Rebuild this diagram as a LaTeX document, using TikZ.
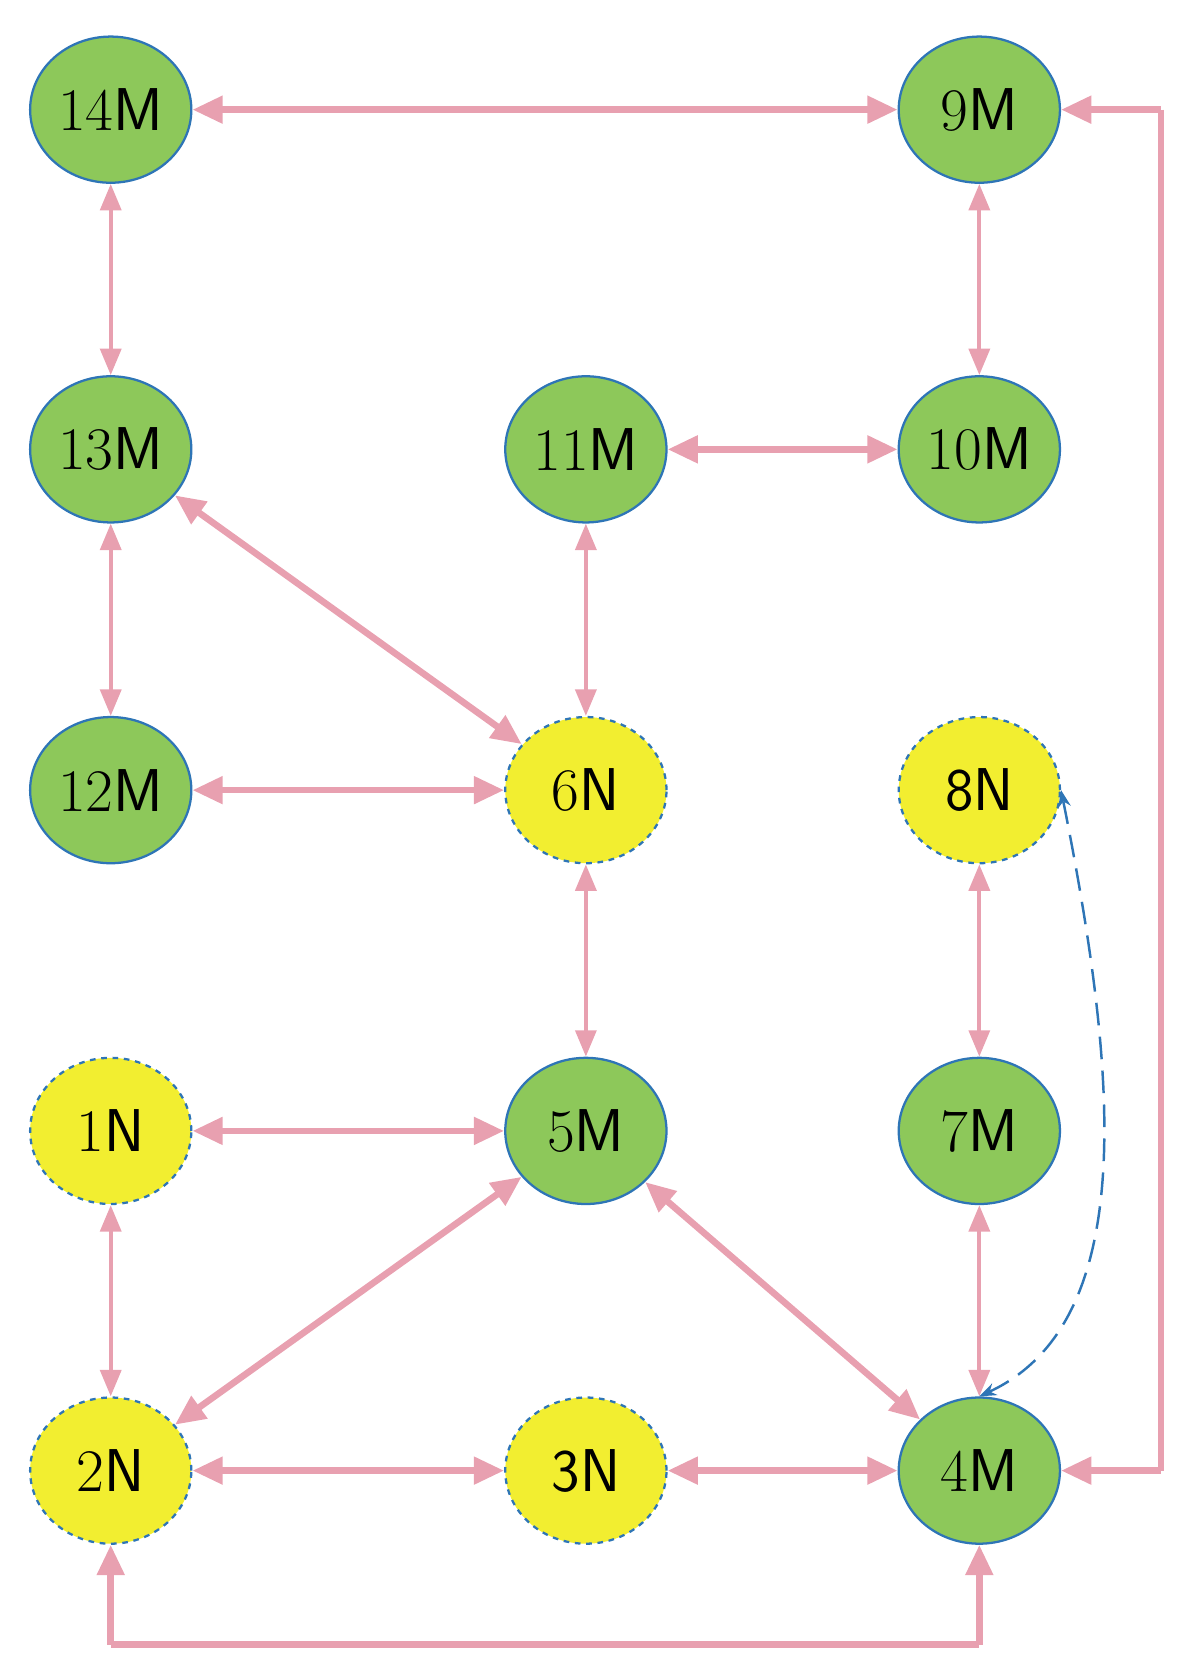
\documentclass[tikz,border=0pt]{standalone}
\usetikzlibrary{shapes.geometric,arrows.meta}
\definecolor{gfill}{HTML}{8DC85A}
\definecolor{bord}{HTML}{2E75B6}
\definecolor{yfill}{HTML}{F2EE30}
\definecolor{pink}{HTML}{E8A0B0}
\begin{document}
\begin{tikzpicture}[x=0.02cm,y=-0.02cm,
 base/.style={ellipse,minimum width=3cm,minimum height=2.72cm,inner sep=0pt,draw=bord,line width=1.2pt,font=\fontsize{32}{36}\selectfont},
 mn/.style={base,fill=gfill},
 nn/.style={base,fill=yfill,dashed},
 thk/.style={draw=pink,line width=3.5pt,{Triangle[length=16pt,width=14pt]}-{Triangle[length=16pt,width=14pt]}},
 thn/.style={draw=pink,line width=2.2pt,{Triangle[length=14pt,width=11pt]}-{Triangle[length=14pt,width=11pt]}},
 one/.style={draw=pink,line width=3.5pt,-{Triangle[length=16pt,width=14pt]}}]
\useasboundingbox (0,0) rectangle (1107,1560);
\node[mn] (n14) at (103,102) {14\textsf{M}};
\node[mn] (n9) at (911,102) {9\textsf{M}};
\node[mn] (n13) at (103,418) {13\textsf{M}};
\node[mn] (n11) at (545,418) {11\textsf{M}};
\node[mn] (n10) at (911,418) {10\textsf{M}};
\node[mn] (n12) at (103,735) {12\textsf{M}};
\node[nn] (n6) at (545,735) {6\textsf{N}};
\node[nn] (n8) at (911,735) {\textsf{8N}};
\node[nn] (n1) at (103,1052) {1\textsf{N}};
\node[mn] (n5) at (545,1052) {5\textsf{M}};
\node[mn] (n7) at (911,1052) {7\textsf{M}};
\node[nn] (n2) at (103,1368) {2\textsf{N}};
\node[nn] (n3) at (545,1368) {\textsf{3N}};
\node[mn] (n4) at (911,1368) {4\textsf{M}};
\coordinate (rt) at (1080,102);
\coordinate (rb) at (1080,1368);
\coordinate (bl) at (103,1530);
\coordinate (br) at (911,1530);
\draw[thk] (n14) -- (n9);
\draw[thk] (n11) -- (n10);
\draw[thk] (n12) -- (n6);
\draw[thk] (n1) -- (n5);
\draw[thk] (n2) -- (n3);
\draw[thk] (n3) -- (n4);
\draw[thk] (n13) -- (n6);
\draw[thk] (n5) -- (n2);
\draw[thk] (n5) -- (n4);
\draw[thn] (n14) -- (n13);
\draw[thn] (n13) -- (n12);
\draw[thn] (n9) -- (n10);
\draw[thn] (n11) -- (n6);
\draw[thn] (n6) -- (n5);
\draw[thn] (n8) -- (n7);
\draw[thn] (n7) -- (n4);
\draw[thn] (n1) -- (n2);
\draw[draw=pink,line width=3.5pt] (rt) -- (rb);
\draw[one] (rt) -- (n9);
\draw[one] (rb) -- (n4);
\draw[draw=pink,line width=3.5pt] (bl) -- (br);
\draw[one] (bl) -- (n2);
\draw[one] (br) -- (n4);
\draw[bord,line width=1.3pt,dash pattern=on 12pt off 6pt,{Stealth[length=9pt]}-{Stealth[length=9pt]}] (n4.north) .. controls (1060,1230) and (1040,1000) .. (n8.east);
\end{tikzpicture}
\end{document}
